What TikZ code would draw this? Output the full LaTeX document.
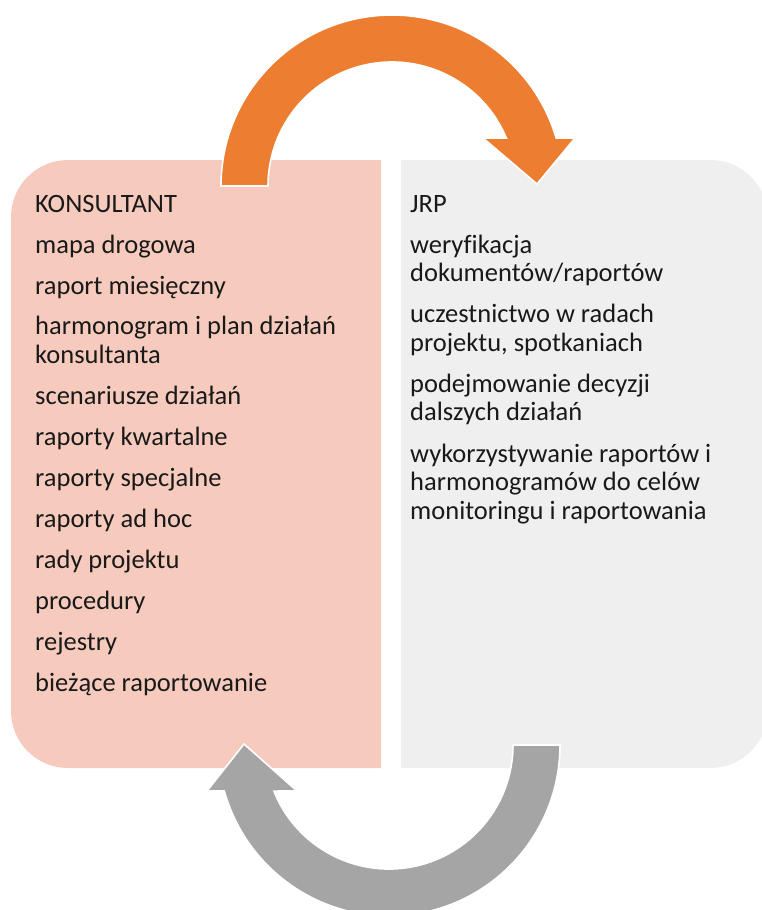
\documentclass[tikz,border=0pt]{standalone}
\usepackage{fontspec}
\setmainfont[Ligatures=NoCommon]{Carlito}
\usetikzlibrary{calc}
\definecolor{peach}{HTML}{F6CBBD}
\definecolor{paleGray}{HTML}{EFEFEF}
\definecolor{arrowOrange}{HTML}{ED7D31}
\definecolor{arrowGray}{HTML}{A5A5A5}

\begin{document}
\begin{tikzpicture}[x=1pt,y=-1pt,
  item/.style={anchor=base west, inner sep=0pt,
    font=\fontsize{26.5}{28.5}\selectfont, text=black!90},
  cyclearrow/.style={draw=white, line width=1.6pt, line join=miter}]
\useasboundingbox (0,0) rectangle (762,910);
\clip (0,0) rectangle (762,910);

% panel of the consultant, rounded on the left
\fill[peach] (381,160) -- (68,160)
  arc[start angle=270, end angle=180, radius=57] -- (11,711)
  arc[start angle=180, end angle=90, radius=57] -- (381,768) -- cycle;

% panel of JRP, rounded on the right
\fill[paleGray] (401,160) -- (710.5,160)
  arc[start angle=270, end angle=360, radius=57] -- (767.5,711)
  arc[start angle=0, end angle=90, radius=57] -- (401,768) -- cycle;

% texts of the left panel
\node[item] (L0) at (35,212) {KONSULTANT};
\node[item] (L1) at (35,253) {mapa drogowa};
\node[item] (L2) at (35,294) {raport miesięczny};
\node[item] (L3) at (35,334.5) {harmonogram i plan działań};
\node[item] (L3b) at (35,363) {konsultanta};
\node[item] (L4) at (35,404) {scenariusze działań};
\node[item] (L5) at (35,445) {raporty kwartalne};
\node[item] (L6) at (35,486) {raporty specjalne};
\node[item] (L7) at (35,527) {raporty ad hoc};
\node[item] (L8) at (35,568) {rady projektu};
\node[item] (L9) at (35,609) {procedury};
\node[item] (L10) at (35,650) {rejestry};
\node[item] (L11) at (35,691) {bieżące raportowanie};

% texts of the right panel
\node[item] (R0) at (410,212) {JRP};
\node[item] (R1) at (410,253) {weryfikacja};
\node[item] (R1b) at (410,281.5) {dokumentów/raportów};
\node[item] (R2) at (410,322.5) {uczestnictwo w radach};
\node[item] (R2b) at (410,351) {projektu, spotkaniach};
\node[item] (R3) at (410,392) {podejmowanie decyzji};
\node[item] (R3b) at (410,420.5) {dalszych działań};
\node[item] (R4) at (410,462) {wykorzystywanie raportów i};
\node[item] (R4b) at (410,490.5) {harmonogramów do celów};
\node[item] (R4c) at (410,519) {monitoringu i raportowania};

% orange curved arrow over the top, left panel to right panel
\coordinate (topC) at (392,186);
\fill[arrowOrange] ($(topC)+(180:171)$)
  arc[start angle=180, end angle=343.7, radius=171]
  -- (575,138) -- (537,184) -- (483,138)
  -- ($(topC)+(337.2:124)$)
  arc[start angle=337.2, end angle=180, radius=124] -- cycle;
\draw[cyclearrow] ($(topC)+(180:171)$)
  arc[start angle=180, end angle=343.7, radius=171]
  -- (575,138) -- (537,184) -- (483,138)
  -- ($(topC)+(337.2:124)$)
  arc[start angle=337.2, end angle=180, radius=124] -- cycle;

% grey curved arrow under the bottom, right panel back to left panel
\coordinate (botC) at (389,745);
\fill[arrowGray] ($(botC)+(0:171)$)
  arc[start angle=0, end angle=164.4, radius=171]
  -- (207,791) -- (244,744) -- (297,791)
  -- ($(botC)+(158.2:124)$)
  arc[start angle=158.2, end angle=0, radius=124] -- cycle;
\draw[cyclearrow] ($(botC)+(0:171)$)
  arc[start angle=0, end angle=164.4, radius=171]
  -- (207,791) -- (244,744) -- (297,791)
  -- ($(botC)+(158.2:124)$)
  arc[start angle=158.2, end angle=0, radius=124] -- cycle;
\end{tikzpicture}
\end{document}
